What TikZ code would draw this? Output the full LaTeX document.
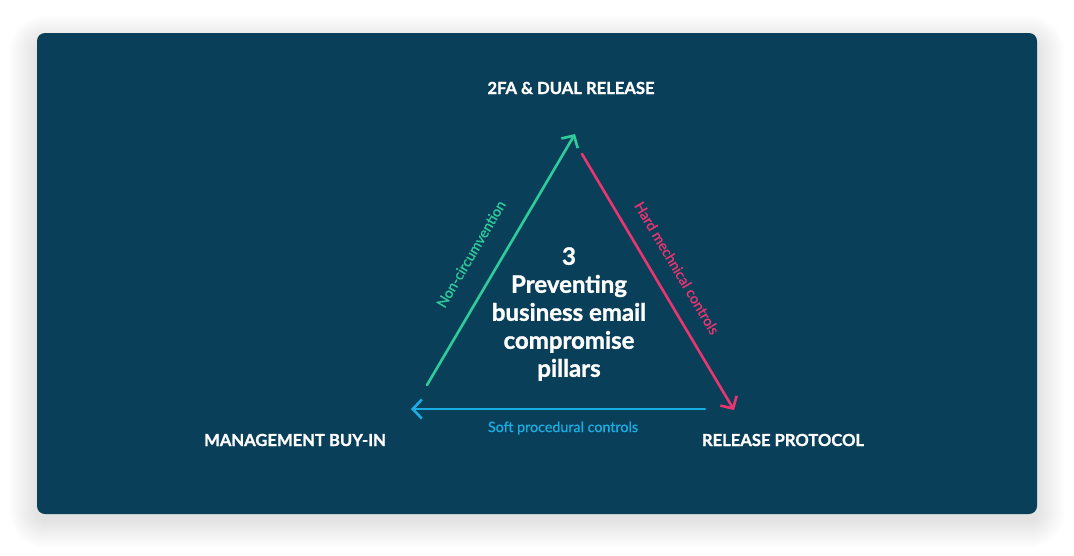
\documentclass[tikz,border=0pt]{standalone}
\usepackage{fontspec}
\setmainfont{Lato}[UprightFeatures={FakeBold=0.8},BoldFeatures={FakeBold=1.2}]
\usetikzlibrary{arrows.meta}
\definecolor{bgblue}{HTML}{0A3F5A}
\definecolor{pgreen}{HTML}{2FCB9B}
\definecolor{ppink}{HTML}{EA3570}
\definecolor{pblue}{HTML}{1BADE2}
\tikzset{
  vlabel/.style={text=white,font=\fontsize{16.6}{19}\selectfont\bfseries,inner sep=0pt},
  elabel/.style={font=\fontsize{14.3}{17}\selectfont,inner sep=0pt},
  conn/.style={line width=2.6pt,line cap=round,-{Straight Barb[length=9pt,width=19pt,line width=2.6pt]}},
}
\begin{document}
\begin{tikzpicture}[x=1pt,y=-1pt]
\useasboundingbox (0,0) rectangle (1074,555);
\fill[white] (0,0) rectangle (1074,555);
% soft shadow
\foreach \i in {1,...,28}{
  \fill[black,opacity=0.0055,rounded corners={8pt+\i pt}] (37-\i,33-\i+10) rectangle (1037+\i,514+\i+6);
}
\fill[bgblue,rounded corners=8pt] (37,33) rectangle (1037,514);
% vertex labels
\node[vlabel] (top) at (571,88) {2FA \& DUAL RELEASE};
\node[vlabel] (left) at (295,440) {MANAGEMENT BUY-IN};
\node[vlabel] (right) at (783,440) {RELEASE PROTOCOL};
% arrow endpoints
\coordinate (gs) at (427,385);
\coordinate (ge) at (575,134);
\coordinate (ps) at (582,154);
\coordinate (pe) at (734,410);
\coordinate (bs) at (705,409);
\coordinate (be) at (411,409);
\draw[conn,pgreen] (gs) -- (ge);
\draw[conn,ppink] (ps) -- (pe);
\draw[conn,pblue] (bs) -- (be);
% edge labels
\node[elabel,text=pgreen,rotate=59.5] (nc) at (471,254) {Non-circumvention};
\node[elabel,text=ppink,rotate=-59.3] (hm) at (677,268) {Hard mechnical controls};
\node[elabel,text=pblue] (sp) at (563,428) {Soft procedural controls};
% centre
\node[text=white,font=\fontsize{24}{28}\selectfont\bfseries,align=center,inner sep=0pt] (ctr) at (569,314) {3\\Preventing\\business email\\compromise\\pillars};
\end{tikzpicture}
\end{document}
